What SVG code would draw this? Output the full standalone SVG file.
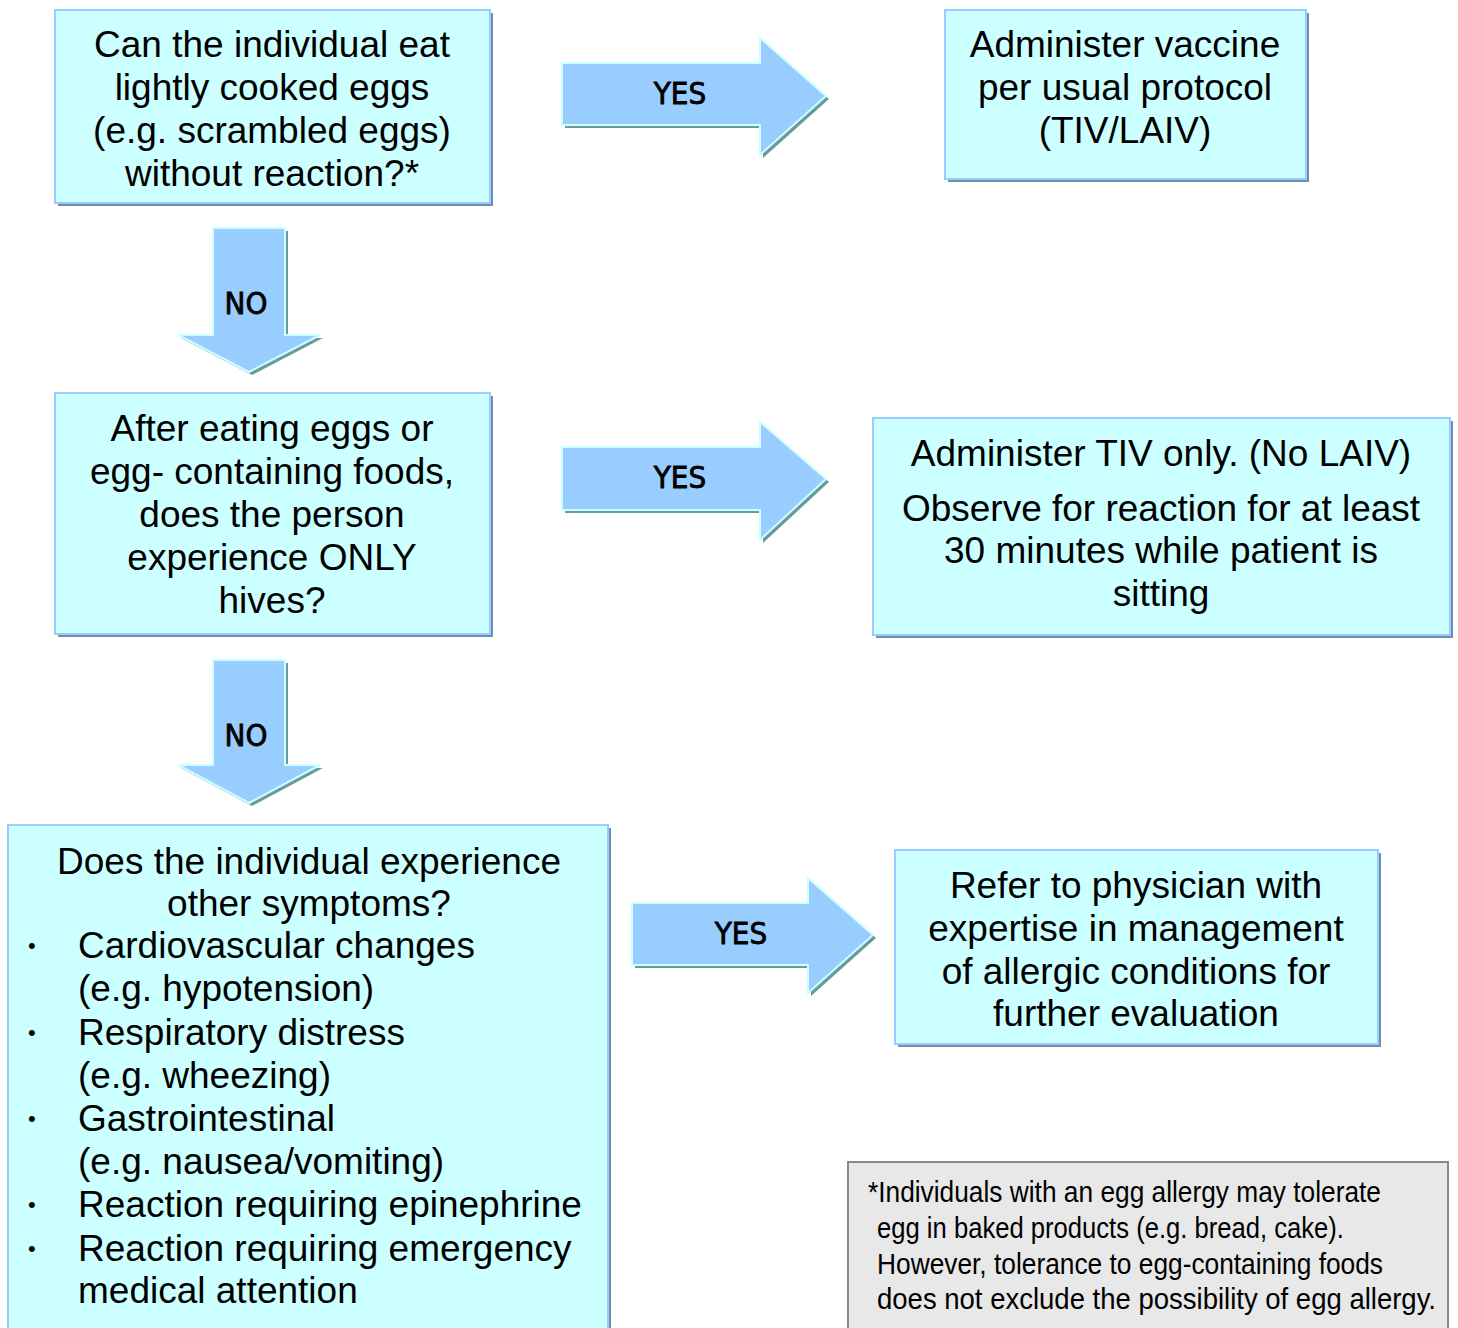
<svg xmlns="http://www.w3.org/2000/svg" width="1458" height="1328" viewBox="0 0 1458 1328">
<style>
.box{fill:#CCFFFF;stroke:#99CCFF;stroke-width:2}
.sh{fill:#6F8FB0}
.t{font-family:"Liberation Sans",Arial,sans-serif;font-size:37px;fill:#000}
.c{text-anchor:middle}
.b{font-size:22px}
.arr{fill:#99CCFF;stroke:#CCFFFF;stroke-width:2}
.ash{fill:#6A9A9A}
.lbl{font-family:"DejaVu Sans Condensed","DejaVu Sans",sans-serif;font-size:31px;fill:#000;stroke:#000;stroke-width:0.8;text-anchor:middle}
.fn{font-family:"Liberation Sans Narrow","Liberation Sans",sans-serif;font-size:30px;fill:#000}
</style>
<rect width="1458" height="1328" fill="#fff"/>
<g id="connectors">
  <g id="yes1">
    <path class="ash" d="M565,66 L763,66 L763,41 L829,99 L763,158 L763,128 L565,128 Z"/>
    <path class="arr" d="M562,63 L760,63 L760,38 L826,96 L760,155 L760,125 L562,125 Z"/>
    <text class="lbl" x="680" y="104">YES</text>
  </g>
  <g id="yes2">
    <path class="ash" d="M565,450 L763,450 L763,425 L829,482 L763,543 L763,513 L565,513 Z"/>
    <path class="arr" d="M562,447 L760,447 L760,422 L826,479 L760,540 L760,510 L562,510 Z"/>
    <text class="lbl" x="680" y="488">YES</text>
  </g>
  <g id="yes3">
    <path class="ash" d="M635,906 L811,906 L811,881 L876,938 L811,996 L811,968 L635,968 Z"/>
    <path class="arr" d="M632,903 L808,903 L808,878 L873,935 L808,993 L808,965 L632,965 Z"/>
    <text class="lbl" x="741" y="944">YES</text>
  </g>
  <g id="no1">
    <path class="ash" d="M216,231 L288,231 L288,338 L323,338 L252,375 L181,338 L216,338 Z"/>
    <path class="arr" d="M213,228 L285,228 L285,335 L320,335 L249,372 L178,335 L213,335 Z"/>
    <text class="lbl" x="246" y="314">NO</text>
  </g>
  <g id="no2">
    <path class="ash" d="M216,663 L288,663 L288,768 L323,768 L252,806 L181,768 L216,768 Z"/>
    <path class="arr" d="M213,660 L285,660 L285,765 L320,765 L249,803 L178,765 L213,765 Z"/>
    <text class="lbl" x="246" y="746">NO</text>
  </g>
</g>
<g id="q1">
  <rect class="sh" x="58" y="13" width="435" height="193"/>
  <rect class="box" x="55" y="10" width="435" height="193"/>
  <text class="t c" x="272" y="57">Can the individual eat</text>
  <text class="t c" x="272" y="100">lightly cooked eggs</text>
  <text class="t c" x="272" y="143">(e.g. scrambled eggs)</text>
  <text class="t c" x="272" y="186">without reaction?*</text>
</g>
<g id="a1">
  <rect class="sh" x="948" y="13" width="361" height="169"/>
  <rect class="box" x="945" y="10" width="361" height="169"/>
  <text class="t c" x="1125" y="57">Administer vaccine</text>
  <text class="t c" x="1125" y="100">per usual protocol</text>
  <text class="t c" x="1125" y="143">(TIV/LAIV)</text>
</g>
<g id="q2">
  <rect class="sh" x="58" y="396" width="435" height="241"/>
  <rect class="box" x="55" y="393" width="435" height="241"/>
  <text class="t c" x="272" y="441">After eating eggs or</text>
  <text class="t c" x="272" y="484">egg- containing foods,</text>
  <text class="t c" x="272" y="527">does the person</text>
  <text class="t c" x="272" y="570">experience ONLY</text>
  <text class="t c" x="272" y="613">hives?</text>
</g>
<g id="a2">
  <rect class="sh" x="876" y="421" width="577" height="217"/>
  <rect class="box" x="873" y="418" width="577" height="217"/>
  <text class="t c" x="1161" y="466">Administer TIV only. (No LAIV)</text>
  <text class="t c" x="1161" y="521">Observe for reaction for at least</text>
  <text class="t c" x="1161" y="563">30 minutes while patient is</text>
  <text class="t c" x="1161" y="606">sitting</text>
</g>
<g id="q3">
  <rect class="sh" x="11" y="828" width="600" height="510"/>
  <rect class="box" x="8" y="825" width="600" height="510"/>
  <text class="t c" x="309" y="874">Does the individual experience</text>
  <text class="t c" x="309" y="916">other symptoms?</text>
  <g class="t">
    <text class="b" x="28" y="953">•</text><text x="78" y="958">Cardiovascular changes</text>
    <text x="78" y="1001">(e.g. hypotension)</text>
    <text class="b" x="28" y="1040">•</text><text x="78" y="1045">Respiratory distress</text>
    <text x="78" y="1088">(e.g. wheezing)</text>
    <text class="b" x="28" y="1126">•</text><text x="78" y="1131">Gastrointestinal</text>
    <text x="78" y="1174">(e.g. nausea/vomiting)</text>
    <text class="b" x="28" y="1212">•</text><text x="78" y="1217">Reaction requiring epinephrine</text>
    <text class="b" x="28" y="1256">•</text><text x="78" y="1261">Reaction requiring emergency</text>
    <text x="78" y="1303">medical attention</text>
  </g>
</g>
<g id="a3">
  <rect class="sh" x="898" y="853" width="483" height="194"/>
  <rect class="box" x="895" y="850" width="483" height="194"/>
  <text class="t c" x="1136" y="898">Refer to physician with</text>
  <text class="t c" x="1136" y="941">expertise in management</text>
  <text class="t c" x="1136" y="984">of allergic conditions for</text>
  <text class="t c" x="1136" y="1026">further evaluation</text>
</g>
<g id="footnote">
  <rect x="848" y="1162" width="600" height="176" fill="#E8E8E8" stroke="#888888" stroke-width="2"/>
  <text class="fn" x="868" y="1202" textLength="513" lengthAdjust="spacingAndGlyphs">*Individuals with an egg allergy may tolerate</text>
  <text class="fn" x="877" y="1238" textLength="467" lengthAdjust="spacingAndGlyphs">egg in baked products (e.g. bread, cake).</text>
  <text class="fn" x="877" y="1274" textLength="506" lengthAdjust="spacingAndGlyphs">However, tolerance to egg-containing foods</text>
  <text class="fn" x="877" y="1309" textLength="559" lengthAdjust="spacingAndGlyphs">does not exclude the possibility of egg allergy.</text>
</g>
</svg>
